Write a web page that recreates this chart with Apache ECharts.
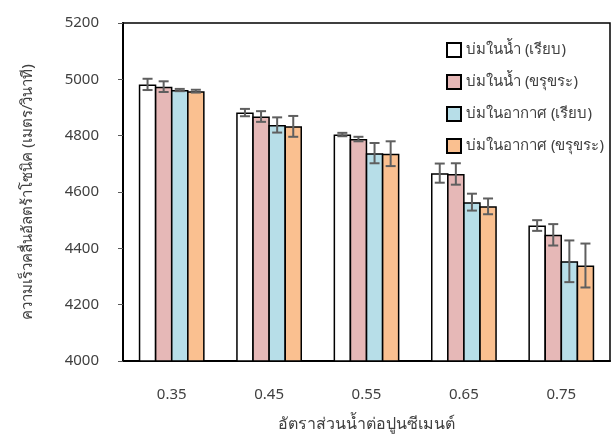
<!DOCTYPE html>
<html>
<head>
<meta charset="utf-8">
<script src="https://cdn.jsdelivr.net/npm/echarts@6/dist/echarts.min.js"></script>
<style>
  html, body { margin: 0; padding: 0; background: #fff; }
  #chart { width: 612px; height: 437px; }
</style>
</head>
<body>
<div id="chart"></div>
<script>
// water/cement ratios
const categories = ['0.35', '0.45', '0.55', '0.65', '0.75'];
const seriesNames = [
  'บ่มในน้ำ (เรียบ)',
  'บ่มในน้ำ (ขรุขระ)',
  'บ่มในอากาศ (เรียบ)',
  'บ่มในอากาศ (ขรุขระ)',
];
// mean pulse velocity (m/s)
const waterSmooth = [4982, 4882, 4804, 4667, 4481];
const waterRough = [4974, 4868, 4788, 4664, 4448];
const airSmooth = [4962, 4838, 4738, 4564, 4354];
const airRough = [4958, 4833, 4736, 4549, 4339];
// error bar half-widths (m/s)
const waterSmoothErr = [20, 13, 6, 34, 19];
const waterRoughErr = [19, 19, 8, 38, 38];
const airSmoothErr = [4, 27, 36, 30, 74];
const airRoughErr = [5, 37, 44, 28, 78];

const values = [waterSmooth, waterRough, airSmooth, airRough];
const errors = [waterSmoothErr, waterRoughErr, airSmoothErr, airRoughErr];
const colors = ['#ffffff', '#e6b8b7', '#b7dee8', '#fac090'];

const FONT = 'Tahoma, "Noto Sans", sans-serif';
const BAR_W = 17.5;
const GAP = -0.08; // small overlap so neighbouring borders merge
const STEP = BAR_W * (1 + GAP);

const chart = echarts.init(document.getElementById('chart'));

const barSeries = values.map((vals, i) => ({
  name: seriesNames[i],
  type: 'bar',
  data: vals,
  barWidth: BAR_W,
  barGap: GAP * 100 + '%',
  itemStyle: { color: colors[i], borderColor: '#000', borderWidth: 1.5 },
  emphasis: { disabled: true },
  z: 2,
}));

const errSeries = values.map((vals, i) => ({
  type: 'custom',
  name: 'err' + i,
  data: vals.map((v, j) => [j, v - errors[i][j], v + errors[i][j]]),
  z: 5,
  renderItem: (params, api) => {
    const x = api.coord([api.value(0), 0])[0] + (i - 1.5) * STEP;
    const lo = api.coord([api.value(0), api.value(1)])[1];
    const hi = api.coord([api.value(0), api.value(2)])[1];
    const cap = 5;
    const style = { stroke: '#5f5f5f', lineWidth: 2 };
    return {
      type: 'group',
      children: [
        { type: 'line', shape: { x1: x, y1: lo, x2: x, y2: hi }, style },
        { type: 'line', shape: { x1: x - cap, y1: hi, x2: x + cap, y2: hi }, style },
        { type: 'line', shape: { x1: x - cap, y1: lo, x2: x + cap, y2: lo }, style },
      ],
    };
  },
}));

const option = {
  animation: false,
  textStyle: { fontFamily: FONT },
  grid: {
    left: 123,
    right: 2,
    top: 23,
    bottom: 75,
    show: true,
    borderColor: '#000',
    borderWidth: 1.5,
  },
  legend: {
    data: seriesNames,
    orient: 'vertical',
    left: 441,
    top: 37,
    icon: 'rect',
    itemWidth: 14,
    itemHeight: 14,
    itemGap: 16,
    textStyle: { fontSize: 15, color: '#404040', fontFamily: FONT },
  },
  xAxis: {
    type: 'category',
    data: categories,
    name: 'อัตราส่วนน้ำต่อปูนซีเมนต์',
    nameLocation: 'middle',
    nameGap: 55,
    nameTextStyle: { fontSize: 16, color: '#404040' },
    axisLine: { lineStyle: { color: '#000', width: 2 } },
    axisTick: { show: false },
    axisLabel: { fontSize: 15, color: '#404040', margin: 26 },
  },
  yAxis: {
    type: 'value',
    min: 4000,
    max: 5200,
    interval: 200,
    name: 'ความเร็วคลื่นอัลตร้าโซนิค (เมตร/วินาที)',
    nameLocation: 'middle',
    nameGap: 88,
    nameTextStyle: { fontSize: 15, color: '#404040' },
    axisLine: { show: true, lineStyle: { color: '#000', width: 2 } },
    axisTick: { show: true, length: 5, lineStyle: { color: '#595959' } },
    axisLabel: { fontSize: 15, color: '#404040', margin: 24, formatter: (v) => String(v) },
    splitLine: { show: false },
  },
  series: [...barSeries, ...errSeries],
};

chart.setOption(option);
</script>
</body>
</html>
